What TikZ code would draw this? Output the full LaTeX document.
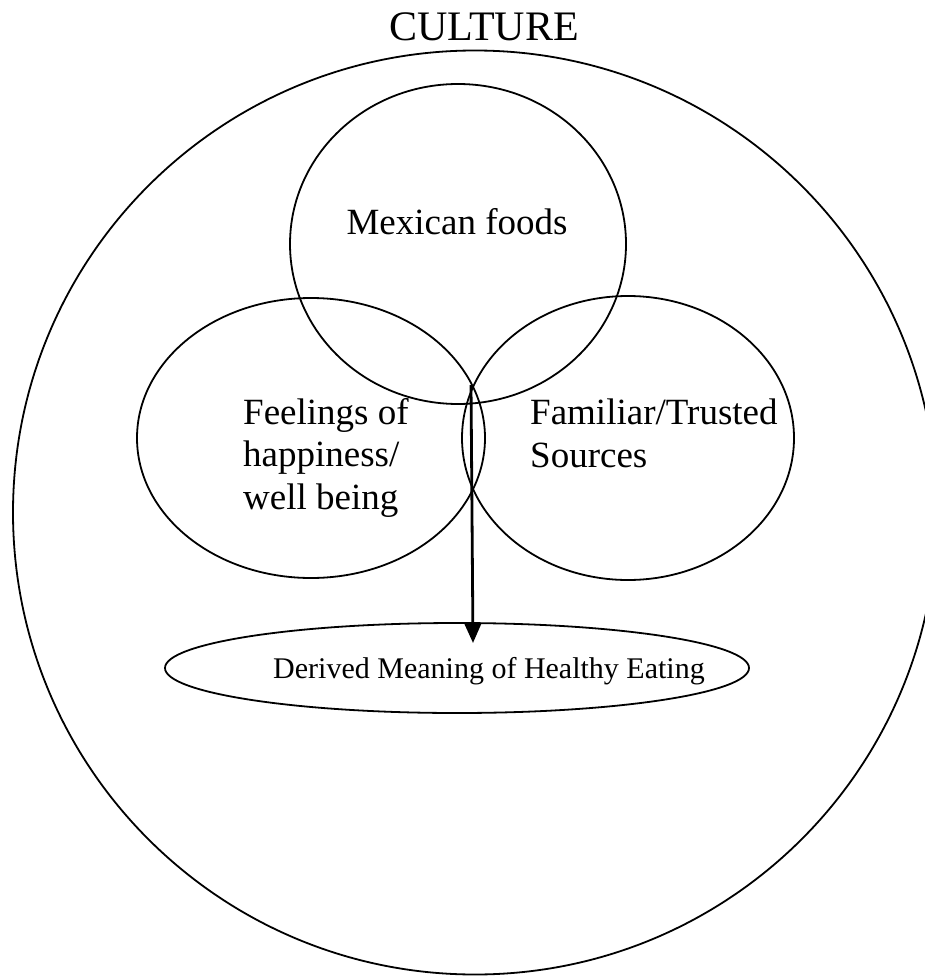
\documentclass[tikz,border=0pt]{standalone}
\usepackage{fontspec}
\setmainfont{Liberation Serif}
\usetikzlibrary{shapes.geometric,arrows.meta}
\tikzset{
  ring/.style={draw=black, line width=1.8pt, ellipse, inner sep=0pt},
  lbl/.style={inner sep=0pt, font=\fontsize{37}{42.5}\selectfont, align=left, anchor=base west},
  link/.style={line width=2.8pt, -{Triangle[width=16pt,length=19pt]}}
}
\begin{document}
\begin{tikzpicture}[x=1pt,y=-1pt]
\useasboundingbox (0,0) rectangle (925,976);
\clip (0,0) rectangle (925,976);
\node[ring, minimum width=924pt, minimum height=924pt] (culture) at (475,512.5) {};
\node[inner sep=0pt, font=\fontsize{42}{48}\selectfont, anchor=base] (culturet) at (484,41) {CULTURE};
\node[ring, minimum width=336pt, minimum height=320pt] (mex) at (458,244) {};
\node[ring, minimum width=348pt, minimum height=280pt] (feel) at (311,438) {};
\node[ring, minimum width=332pt, minimum height=284pt] (fam) at (628,438) {};
\node[ring, minimum width=584pt, minimum height=90pt] (derived) at (457,668) {};
\node[inner sep=0pt, font=\fontsize{37}{42}\selectfont, anchor=base] (mext) at (457,234) {Mexican foods};
\node[lbl] (feelt) at (243,509) {Feelings of\\happiness/\\well being};
\node[lbl] (famt) at (530,467) {Familiar/Trusted\\Sources};
\node[inner sep=0pt, font=\fontsize{30}{36}\selectfont, anchor=base] (dert) at (489,678) {Derived Meaning of Healthy Eating};
\coordinate (astart) at (471,385);
\coordinate (atip) at (473,643);
\draw[link] (astart) -- (atip);
\end{tikzpicture}
\end{document}
